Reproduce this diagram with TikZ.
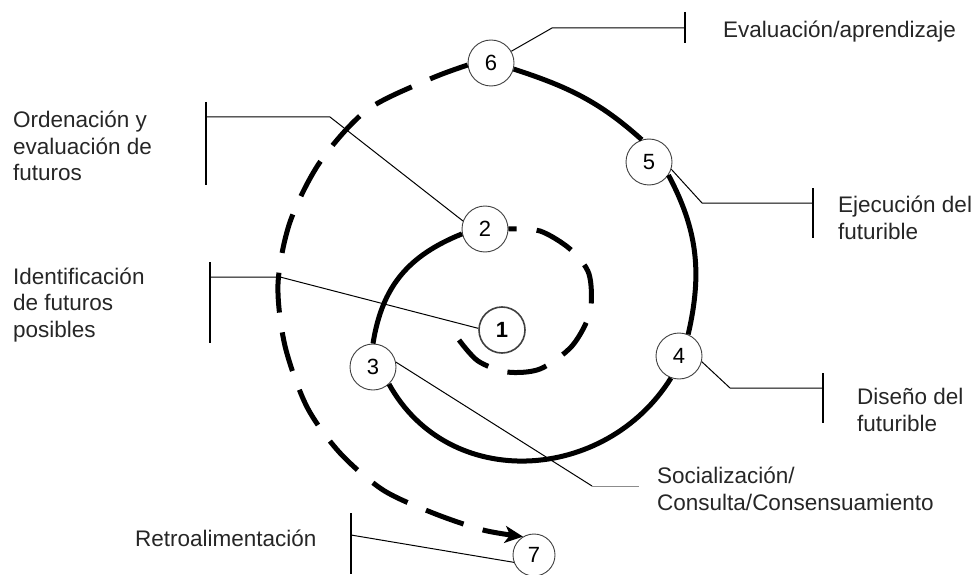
\documentclass[tikz,border=0pt]{standalone}
\usepackage{fontspec}
\setmainfont{Liberation Sans}
\usetikzlibrary{arrows.meta}
\begin{document}
\begin{tikzpicture}[x=1pt,y=1pt,
		num/.style={circle,draw=black!75,line width=0.9pt,fill=white,minimum size=46pt,inner sep=0pt,font=\fontsize{22}{26}\selectfont},
		lbl/.style={anchor=west,align=left,inner sep=0pt,text=black!85,font=\fontsize{22.5}{26.5}\selectfont},
		leader/.style={line width=1pt},
		tick/.style={line width=1.6pt},
		spiral/.style={line width=5pt},
		spiraldash/.style={spiral,dash pattern=on 40pt off 20pt}]
			\useasboundingbox (0,0) rectangle (976,574);
			\node[num,line width=1.6pt,font=\fontsize{22}{26}\selectfont\bfseries] (p1) at (502,244) {1};
			\node[num] (p2) at (485,345) {2};
			\node[num] (p3) at (373,207) {3};
			\node[num] (p4) at (679,218) {4};
			\node[num] (p5) at (649,412) {5};
			\node[num] (p6) at (491,511) {6};
			\node[num,minimum size=42pt] (p7) at (534,19) {7};
			\coordinate (s0) at (459,234);
			\draw[spiraldash] plot[smooth] coordinates {(s0) (478,213) (507,202) (540,205) (572,228) (590,262) (589,300) (570,325) (540,343) (p2.east)};
			\draw[spiral] (p2.192) to[out=202,in=81,looseness=1.05] (p3.north);
			\draw[spiral] (p3.313) to[out=299,in=238,looseness=1.12] (p4.250);
			\draw[spiral] (p4.67) to[out=77,in=298] (p5.326);
			\draw[spiral] (p5.108) to[out=138,in=342] (p6.345);
			\draw[spiraldash,-{Stealth[length=18pt,width=17pt,inset=5pt]}] plot[smooth] coordinates {(p6.185) (430,495) (367,464) (320,412) (290,352) (278,290) (285,228) (307,167) (340,121) (383,84) (433,61) (483,44) (p7.121)};
			\node[lbl] (ordenacion) at (13,428) {Ordenación y\\evaluación de\\futuros};
			\node[lbl] (identificacion) at (13,269) {Identificación\\de futuros\\posibles};
			\node[lbl] (evaluacion) at (723,542) {Evaluación/aprendizaje};
			\node[lbl] (ejecucion) at (838,356) {Ejecución del\\futurible};
			\node[lbl] (diseno) at (857,164) {Diseño del\\futurible};
			\node[lbl] (socializacion) at (657,85) {Socialización/\\Consulta/Consensuamiento};
			\node[lbl] (retro) at (135,36) {Retroalimentación};
			\coordinate (o1) at (330,457);
			\coordinate (o2) at (206,457);
			\draw[leader] (p2.160) -- (o1) -- (o2);
			\draw[tick] ([yshift=15pt]o2) -- ([yshift=-68pt]o2);
			\coordinate (i1) at (280,297);
			\coordinate (i2) at (210,297);
			\draw[leader] (p1.176) -- (i1) -- (i2);
			\draw[tick] ([yshift=15pt]i2) -- ([yshift=-66pt]i2);
			\coordinate (e1) at (552,546);
			\coordinate (e2) at (685,546);
			\draw[leader] (p6.30) -- (e1) -- (e2);
			\draw[tick] ([yshift=16pt]e2) -- ([yshift=-15pt]e2);
			\coordinate (j1) at (702,371);
			\coordinate (j2) at (813,371);
			\draw[leader] (p5.342) -- (j1) -- (j2);
			\draw[tick] ([yshift=15pt]j2) -- ([yshift=-35pt]j2);
			\coordinate (d1) at (730,186);
			\coordinate (d2) at (823,186);
			\draw[leader] (p4.346) -- (d1) -- (d2);
			\draw[tick] ([yshift=15pt]d2) -- ([yshift=-35pt]d2);
			\coordinate (c1) at (592,88);
			\coordinate (c2) at (639,88);
			\draw[leader] (p3.12) -- (c1);
			\draw[leader,black!45] (c1) -- (c2);
			\coordinate (r1) at (351,39);
			\draw[leader] (p7.200) -- (r1);
			\draw[tick] ([yshift=22pt]r1) -- ([yshift=-39pt]r1);
\end{tikzpicture}
\end{document}
